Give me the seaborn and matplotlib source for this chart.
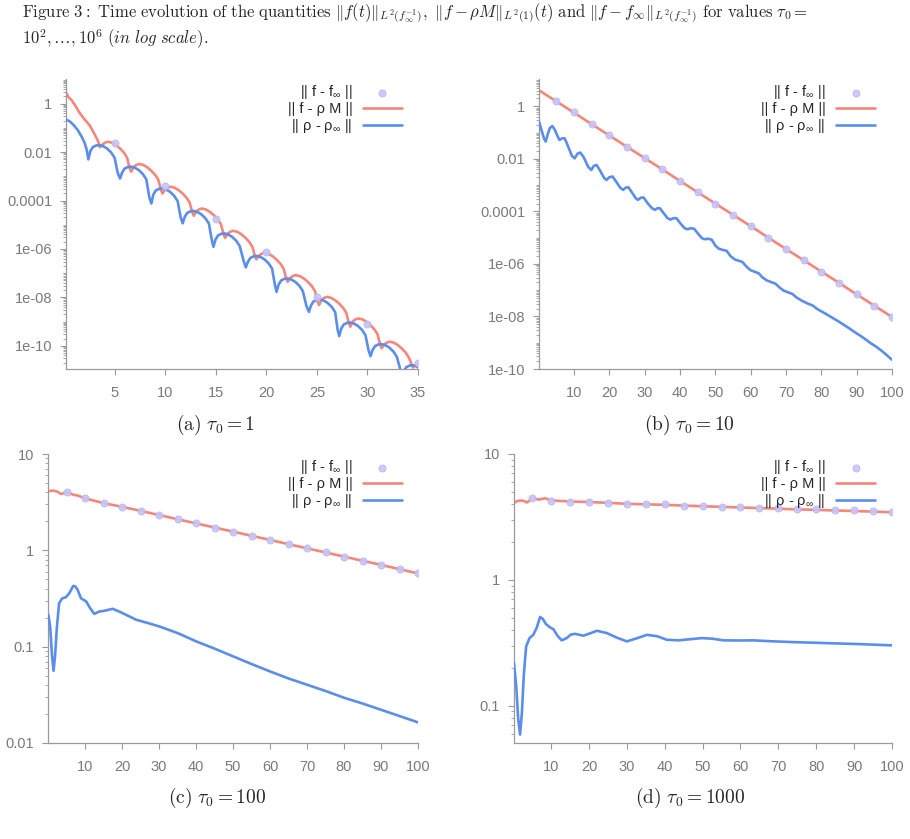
import numpy as np
import matplotlib
matplotlib.use("Agg")
import matplotlib.pyplot as plt
from matplotlib.ticker import LogLocator
import seaborn as sns

# ---- (a) tau0 = 1 ----
a_red_x = [0.1, 0.4, 0.7, 1.1, 1.5, 1.9, 2.2, 2.5, 2.85, 3.15, 3.35, 3.5,
           3.75, 4.0, 4.3, 4.7, 5.1, 5.5, 5.9, 6.2, 6.45, 6.6,
           6.85, 7.1, 7.4, 7.8, 8.2, 8.6, 9.0, 9.3, 9.55, 9.7,
           9.95, 10.2, 10.5, 10.9, 11.3, 11.7, 12.1, 12.4, 12.65, 12.8,
           13.05, 13.3, 13.6, 14.0, 14.4, 14.8, 15.2, 15.5, 15.75, 15.9,
           16.15, 16.4, 16.7, 17.1, 17.5, 17.9, 18.3, 18.6, 18.85, 19.0,
           19.25, 19.5, 19.8, 20.2, 20.6, 21.0, 21.4, 21.7, 21.95, 22.1,
           22.35, 22.6, 22.9, 23.3, 23.7, 24.1, 24.5, 24.8, 25.05, 25.2,
           25.45, 25.7, 26.0, 26.4, 26.8, 27.2, 27.6, 27.9, 28.15, 28.3,
           28.55, 28.8, 29.1, 29.5, 29.9, 30.3, 30.7, 31.0, 31.25, 31.4,
           31.65, 31.9, 32.2, 32.6, 33.0, 33.4, 33.8, 34.1, 34.35, 34.5,
           34.75, 35.0]
a_red_log = [0.50, 0.27, 0.15, -0.10, -0.38, -0.60, -0.75, -0.90, -1.16, -1.40, -1.57, -1.80,
             -1.69, -1.61, -1.57, -1.61, -1.71, -1.85, -2.03, -2.23, -2.66, -2.81,
             -2.61, -2.53, -2.49, -2.53, -2.63, -2.77, -2.95, -3.15, -3.56, -3.71,
             -3.55, -3.47, -3.43, -3.47, -3.57, -3.71, -3.89, -4.09, -4.48, -4.63,
             -4.45, -4.37, -4.33, -4.37, -4.47, -4.61, -4.79, -4.99, -5.39, -5.54,
             -5.37, -5.29, -5.25, -5.29, -5.39, -5.53, -5.71, -5.91, -6.28, -6.43,
             -6.28, -6.20, -6.16, -6.20, -6.30, -6.44, -6.62, -6.82, -7.21, -7.36,
             -7.20, -7.12, -7.08, -7.12, -7.22, -7.36, -7.54, -7.74, -8.17, -8.32,
             -8.10, -8.02, -7.98, -8.02, -8.12, -8.26, -8.44, -8.64, -9.06, -9.21,
             -8.99, -8.91, -8.87, -8.91, -9.01, -9.15, -9.33, -9.53, -9.95, -10.10,
             -9.95, -9.87, -9.83, -9.87, -9.97, -10.11, -10.29, -10.49, -10.75, -10.90,
             -10.80, -10.77]
a_blue_x = [0.1, 0.5, 0.9, 1.3, 1.7, 2.0, 2.2, 2.36,
            2.56, 2.81, 3.16, 3.46, 3.81, 4.21, 4.61, 4.96, 5.26, 5.5,
            5.7, 5.95, 6.3, 6.6, 6.95, 7.35, 7.75, 8.1, 8.4, 8.6,
            8.8, 9.05, 9.4, 9.7, 10.05, 10.45, 10.85, 11.2, 11.5, 11.7,
            11.9, 12.15, 12.5, 12.8, 13.15, 13.55, 13.95, 14.3, 14.6, 14.75,
            14.95, 15.2, 15.55, 15.85, 16.2, 16.6, 17.0, 17.35, 17.75, 17.95,
            18.15, 18.4, 18.75, 19.05, 19.4, 19.8, 20.2, 20.55, 20.85, 21.0,
            21.2, 21.45, 21.8, 22.1, 22.45, 22.85, 23.25, 23.6, 23.95, 24.2,
            24.4, 24.65, 25.0, 25.3, 25.65, 26.05, 26.45, 26.8, 27.05, 27.2,
            27.4, 27.65, 28.0, 28.3, 28.65, 29.05, 29.45, 29.8, 30.1, 30.3,
            30.5, 30.75, 31.1, 31.4, 31.75, 32.15, 32.55, 32.9, 33.2, 33.4,
            33.6, 33.85, 34.2, 34.5, 34.8, 35.0]
a_blue_log = [-0.65, -0.72, -0.88, -1.08, -1.36, -1.62, -1.90, -2.30,
              -1.96, -1.79, -1.72, -1.71, -1.75, -1.85, -2.01, -2.23, -2.84, -3.09,
              -2.85, -2.68, -2.61, -2.60, -2.64, -2.74, -2.90, -3.12, -3.87, -4.12,
              -3.75, -3.58, -3.51, -3.50, -3.54, -3.64, -3.80, -4.02, -4.69, -4.94,
              -4.68, -4.51, -4.44, -4.43, -4.47, -4.57, -4.73, -4.95, -5.66, -5.91,
              -5.61, -5.44, -5.37, -5.36, -5.40, -5.50, -5.66, -5.88, -6.51, -6.76,
              -6.54, -6.37, -6.30, -6.29, -6.33, -6.43, -6.59, -6.81, -7.52, -7.77,
              -7.47, -7.30, -7.23, -7.22, -7.26, -7.36, -7.52, -7.74, -8.35, -8.60,
              -8.34, -8.17, -8.10, -8.09, -8.13, -8.23, -8.39, -8.61, -9.35, -9.60,
              -9.29, -9.12, -9.05, -9.04, -9.08, -9.18, -9.34, -9.56, -10.18, -10.43,
              -10.18, -10.01, -9.94, -9.93, -9.97, -10.07, -10.23, -10.45, -10.90, -11.30,
              -11.05, -10.88, -10.81, -10.80, -10.84, -10.90]
a_dot_x = [5, 10, 15, 20, 25, 30, 35]
a_dot_log = [-1.64, -3.40, -4.78, -6.14, -8.00, -9.08, -10.70]

# ---- (b) tau0 = 10 ----
b_red_x = [0, 5, 10, 15, 20, 25, 30, 35, 40, 45, 50, 55, 60, 65, 70, 75, 80, 85, 90, 95, 100]
b_red_log = [0.62, 0.19, -0.24, -0.68, -1.11, -1.54, -1.97, -2.40, -2.84, -3.27, -3.70,
             -4.13, -4.56, -5.00, -5.43, -5.86, -6.29, -6.72, -7.16, -7.59, -8.02]
b_blue_x = [0.1, 0.8, 1.5, 2.0, 2.6, 3.2, 3.9, 4.6, 5.4, 5.9, 6.6, 7.4, 8.4, 9.4, 10.2,
            11.0, 11.8, 12.8, 14.0, 14.9, 15.6, 16.4, 17.4, 18.5, 19.2, 20.0, 20.9, 22.0,
            23.1, 23.9, 24.6, 25.4, 26.5, 27.5, 28.1, 28.9, 29.7, 30.8, 32.0, 32.9, 33.6,
            34.3, 35.4, 36.4, 37.3, 38.1, 39.0, 40.2, 41.3, 42.2, 43.0, 44.0, 45.2, 46.2,
            47.0, 48.0, 49.0, 50.0, 51.0, 52.2, 53.2, 54.3, 55.5, 56.7, 57.7, 58.8, 60.0,
            61.2, 62.3, 63.4, 64.6, 65.8, 67.0, 68.2, 69.4, 70.6, 71.8, 73.0, 74.5, 76.0,
            77.5, 79.0, 80.5, 82.0, 83.5, 85.0, 86.5, 88.0, 89.5, 91.0, 92.5, 94.0, 95.5,
            97.0, 98.5, 100.0]
b_blue_log = [-0.58, -0.90, -1.22, -1.34, -1.05, -0.82, -0.75, -0.90, -1.15, -1.28, -1.22,
              -1.22, -1.55, -1.88, -1.98, -1.80, -1.76, -1.95, -2.30, -2.42, -2.27, -2.23,
              -2.45, -2.72, -2.80, -2.70, -2.67, -2.88, -3.10, -3.18, -3.10, -3.08, -3.30,
              -3.50, -3.56, -3.48, -3.47, -3.68, -3.87, -3.94, -3.88, -3.88, -4.07, -4.25,
              -4.31, -4.26, -4.26, -4.47, -4.64, -4.68, -4.64, -4.66, -4.86, -5.02, -5.06,
              -5.04, -5.08, -5.30, -5.42, -5.47, -5.50, -5.70, -5.83, -5.88, -5.93, -6.10,
              -6.24, -6.30, -6.36, -6.52, -6.63, -6.69, -6.75, -6.90, -7.02, -7.08, -7.14,
              -7.28, -7.40, -7.50, -7.58, -7.73, -7.84, -7.96, -8.08, -8.20, -8.33, -8.46,
              -8.60, -8.73, -8.87, -9.02, -9.15, -9.30, -9.47, -9.65]
b_dot_x = [5, 10, 15, 20, 25, 30, 35, 40, 45, 50, 55, 60, 65, 70, 75, 80, 85, 90, 95, 100]
b_dot_log = [0.21, -0.23, -0.66, -1.10, -1.54, -1.97, -2.40, -2.83, -3.27, -3.70,
             -4.13, -4.56, -5.00, -5.43, -5.86, -6.29, -6.72, -7.15, -7.59, -8.02]

# ---- (c) tau0 = 100 ----
c_red_x = [0.1, 1.5, 2.5, 3.5, 4.2, 5.0, 6.0, 7.0, 8.0, 10, 15, 20, 25, 30, 35, 40, 45,
           50, 55, 60, 65, 70, 75, 80, 85, 90, 95, 100]
c_red_log = [0.615, 0.620, 0.610, 0.585, 0.592, 0.605, 0.590, 0.575, 0.570, 0.540, 0.490,
             0.452, 0.410, 0.367, 0.323, 0.280, 0.237, 0.194, 0.151, 0.108, 0.064, 0.021,
             -0.022, -0.065, -0.108, -0.151, -0.195, -0.240]
c_blue_x = [0.1, 0.6, 1.1, 1.5, 1.9, 2.4, 3.0, 3.8, 4.85, 5.75, 6.8, 7.4, 8.0, 8.9, 10.3,
            11.4, 12.5, 13.9, 15.2, 17.5, 19.8, 23.8, 27.0, 30.1, 35.1, 40.1, 45, 50, 55,
            60, 65, 70, 75, 80, 85, 90, 95, 100]
c_blue_log = [-0.67, -0.80, -1.10, -1.25, -1.10, -0.80, -0.55, -0.50, -0.486, -0.445, -0.37,
              -0.375, -0.41, -0.497, -0.53, -0.60, -0.66, -0.635, -0.628, -0.607, -0.645,
              -0.72, -0.755, -0.79, -0.86, -0.946, -1.02, -1.10, -1.18, -1.257, -1.33,
              -1.395, -1.46, -1.53, -1.59, -1.655, -1.72, -1.786]
c_dot_x = [5, 10, 15, 20, 25, 30, 35, 40, 45, 50, 55, 60, 65, 70, 75, 80, 85, 90, 95, 100]
c_dot_log = [0.602, 0.540, 0.490, 0.452, 0.410, 0.367, 0.323, 0.280, 0.237, 0.194, 0.151,
             0.108, 0.064, 0.021, -0.022, -0.065, -0.108, -0.151, -0.195, -0.240]

# ---- (d) tau0 = 1000 ----
d_red_x = [0.2, 1.0, 1.8, 2.7, 3.6, 4.3, 5.0, 5.8, 6.6, 7.5, 8.4, 9.2, 10.0, 11.5, 13, 15,
           20, 25, 30, 35, 40, 45, 50, 55, 60, 65, 70, 75, 80, 85, 90, 95, 100]
d_red_log = [0.612, 0.625, 0.630, 0.628, 0.615, 0.630, 0.650, 0.645, 0.638, 0.642, 0.648,
             0.640, 0.632, 0.628, 0.626, 0.623, 0.618, 0.612, 0.604, 0.600, 0.596, 0.590,
             0.585, 0.580, 0.575, 0.570, 0.565, 0.560, 0.556, 0.551, 0.547, 0.542, 0.537]
d_blue_x = [0.2, 0.8, 1.3, 1.8, 2.3, 2.8, 3.4, 4.3, 5.3, 6.2, 7.1, 7.8, 8.6, 9.6, 10.6,
            11.7, 12.8, 14.1, 15.2, 16.3, 18.5, 20.3, 22.1, 24.7, 27.4, 30.0, 32.6, 35.3,
            38.0, 40.5, 43.6, 46.7, 49.8, 52.6, 55.5, 59.5, 63.4, 68.0, 74.0, 78.5, 82.8,
            87.2, 91.6, 95.8, 100.0]
d_blue_log = [-0.661, -0.85, -1.10, -1.23, -1.05, -0.75, -0.53, -0.463, -0.437, -0.38,
              -0.295, -0.31, -0.35, -0.376, -0.392, -0.445, -0.481, -0.463, -0.435, -0.429,
              -0.444, -0.425, -0.405, -0.423, -0.46, -0.489, -0.465, -0.437, -0.448, -0.476,
              -0.481, -0.472, -0.463, -0.468, -0.481, -0.482, -0.481, -0.488, -0.495,
              -0.499, -0.503, -0.507, -0.511, -0.516, -0.521]
d_dot_x = [5, 10, 15, 20, 25, 30, 35, 40, 45, 50, 55, 60, 65, 70, 75, 80, 85, 90, 95, 100]
d_dot_log = [0.653, 0.630, 0.622, 0.617, 0.614, 0.603, 0.600, 0.600, 0.590, 0.585, 0.579,
             0.579, 0.571, 0.569, 0.563, 0.561, 0.556, 0.553, 0.545, 0.537]

# ticks
x_ticks_a = [5, 10, 15, 20, 25, 30, 35]
x_ticks_rest = [10, 20, 30, 40, 50, 60, 70, 80, 90, 100]
y_ticks_ab = [1, 1e-2, 1e-4, 1e-6, 1e-8, 1e-10]
y_labels_ab = ["1", "0.01", "0.0001", "1e-06", "1e-08", "1e-10"]
y_ticks_c = [10, 1, 0.1, 0.01]
y_labels_c = ["10", "1", "0.1", "0.01"]
y_ticks_d = [10, 1, 0.1]
y_labels_d = ["10", "1", "0.1"]

legend_labels = ["|| f - f$_\\infty$ ||", "|| f - \u03c1 M ||", "|| \u03c1 - \u03c1$_\\infty$ ||"]
captions = [r"$\mathrm{(a)}\ \tau_0 = 1$", r"$\mathrm{(b)}\ \tau_0 = 10$",
            r"$\mathrm{(c)}\ \tau_0 = 100$", r"$\mathrm{(d)}\ \tau_0 = 1000$"]
figure_caption = (
    r"$\mathrm{Figure\ 3:\ Time\ evolution\ of\ the\ quantities}\ \|f(t)\|_{L^2(f_\infty^{-1})},"
    r"\ \|f - \rho M\|_{L^2(1)}(t)\ \mathrm{and}\ \|f - f_\infty\|_{L^2(f_\infty^{-1})}"
    r"\ \mathrm{for\ values}\ \tau_0 =$"
    "\n"
    r"$10^2,\ldots,10^6\ \mathit{(in\ log\ scale).}$"
)

RED = "#f4877a"
BLUE = "#5a8eea"
DOT = "#c6c6fa"
DOT_EDGE = "#b4b4f2"
GREY = "#9a9a9a"

sns.set_style("ticks")
plt.rcParams["font.family"] = ["Liberation Sans", "DejaVu Sans"]
plt.rcParams["mathtext.fontset"] = "custom"
plt.rcParams["mathtext.rm"] = "Liberation Sans"
plt.rcParams["mathtext.it"] = "Liberation Sans:italic"

W, H = 910, 839
fig = plt.figure(figsize=(W / 100, H / 100), dpi=100)


def box(left, top, right, bottom):
    return [left / W, 1 - bottom / H, (right - left) / W, (bottom - top) / H]


def panel(ax, dx, dlog, rx, rlog, bx, blog, xlim, ylim, xt, yt, yl, leg_x):
    ax.set_yscale("log")
    sns.scatterplot(x=dx, y=10.0 ** np.array(dlog), ax=ax, s=26, color=DOT,
                    edgecolor=DOT_EDGE, linewidth=0.6, alpha=0.9, zorder=4,
                    label=legend_labels[0])
    sns.lineplot(x=rx, y=10.0 ** np.array(rlog), ax=ax, color=RED, lw=1.9,
                 estimator=None, sort=False, label=legend_labels[1], zorder=2)
    sns.lineplot(x=bx, y=10.0 ** np.array(blog), ax=ax, color=BLUE, lw=1.9,
                 estimator=None, sort=False, label=legend_labels[2], zorder=3)
    ax.set_xlim(*xlim)
    ax.set_ylim(*ylim)
    ax.set_xticks(xt)
    ax.set_yticks(yt, yl)
    ax.yaxis.set_minor_locator(LogLocator(base=10, subs=np.arange(1, 10), numticks=200))
    ax.yaxis.set_minor_formatter(plt.NullFormatter())
    ax.set_xlabel("")
    ax.set_ylabel("")
    for s in ["top", "right"]:
        ax.spines[s].set_visible(False)
    for s in ["left", "bottom"]:
        ax.spines[s].set_color(GREY)
        ax.spines[s].set_linewidth(0.9)
    ax.tick_params(which="major", direction="out", length=4, width=0.8, color=GREY,
                   labelcolor="#7a7a7a", labelsize=10.5)
    ax.tick_params(which="minor", direction="out", length=2.5, width=0.6, color=GREY)
    ax.tick_params(axis="x", pad=8)
    ax.tick_params(axis="y", pad=6)
    ax.legend(loc="upper right", bbox_to_anchor=(leg_x, 0.985), frameon=False,
              markerfirst=False, handlelength=2.7, handletextpad=0.7, labelspacing=0.05,
              borderpad=0, borderaxespad=0, fontsize=10.5)


ax_a = fig.add_axes(box(66, 79, 418, 369))
ax_b = fig.add_axes(box(539, 79, 892, 369))
ax_c = fig.add_axes(box(48, 454, 418, 743))
ax_d = fig.add_axes(box(514, 454, 892, 743))

panel(ax_a, a_dot_x, a_dot_log, a_red_x, a_red_log, a_blue_x, a_blue_log,
      (0.15, 35), (1.1e-11, 10.5), x_ticks_a, y_ticks_ab, y_labels_ab, 0.955)
panel(ax_b, b_dot_x, b_dot_log, b_red_x, b_red_log, b_blue_x, b_blue_log,
      (0.1, 100), (1e-10, 11), x_ticks_rest, y_ticks_ab, y_labels_ab, 0.953)
panel(ax_c, c_dot_x, c_dot_log, c_red_x, c_red_log, c_blue_x, c_blue_log,
      (0, 100), (0.01, 10), x_ticks_rest, y_ticks_c, y_labels_c, 0.957)
panel(ax_d, d_dot_x, d_dot_log, d_red_x, d_red_log, d_blue_x, d_blue_log,
      (0.2, 100), (0.0505, 10), x_ticks_rest, y_ticks_d, y_labels_d, 0.956)

# subfigure captions
for (cx, cy), cap in zip([(216, 425), (689, 425), (217, 798), (690, 798)], captions):
    fig.text(cx / W, 1 - cy / H, cap, ha="center", va="center", fontsize=14,
             math_fontfamily="cm")

# caption text of the figure, two lines in one text
fig.text(22 / W, 1 - 1 / H, figure_caption, ha="left", va="top", fontsize=12,
         linespacing=1.15, math_fontfamily="cm")

fig.savefig("out.png", dpi=100)
